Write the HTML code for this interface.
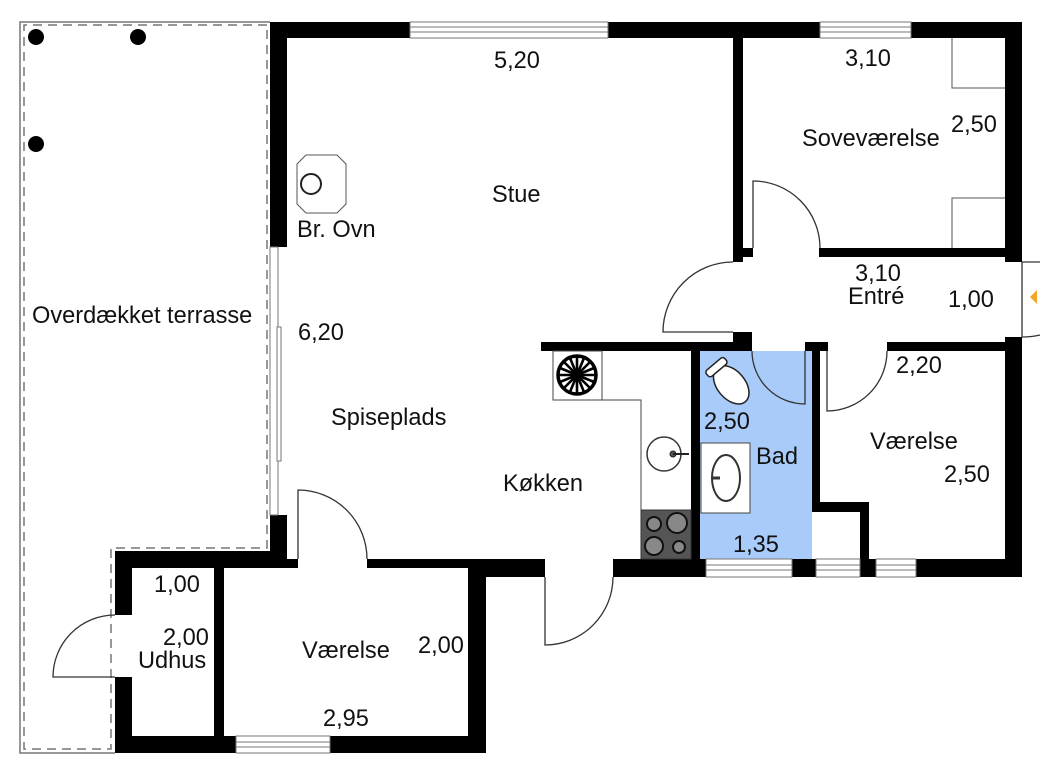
<!DOCTYPE html>
<html><head><meta charset="utf-8"><style>
html,body{margin:0;padding:0;background:#fff}
svg{display:block}
text{font-family:"Liberation Sans",Arial,sans-serif;font-size:23.6px;fill:#111}
</style></head><body>
<svg width="1061" height="765" viewBox="0 0 1061 765" xmlns="http://www.w3.org/2000/svg">
<polyline points="270,22 20,22 20,753 115,753" fill="none" stroke="#777" stroke-width="1.5"/>
<polyline points="267,25 24,25 24,749 111,749 111,548 267,548 267,25" fill="none" stroke="#777" stroke-width="1.5" stroke-dasharray="9,6"/>
<circle cx="36" cy="37" r="8" fill="#000"/><circle cx="138" cy="37" r="8" fill="#000"/><circle cx="36" cy="144" r="8" fill="#000"/>
<rect x="700" y="351" width="112" height="208" fill="#a9cbf9"/>
<g fill="#000">
<rect x="270" y="22" width="140" height="16"/>
<rect x="608" y="22" width="212" height="16"/>
<rect x="911" y="22" width="111" height="16"/>
<rect x="270" y="22" width="17" height="225"/>
<rect x="733" y="38" width="10" height="224"/>
<rect x="819" y="248" width="203" height="9"/>
<rect x="743" y="248" width="10" height="9"/>
<rect x="1005" y="22" width="17" height="240"/>
<rect x="1005" y="337" width="17" height="240"/>
<rect x="733" y="332" width="19" height="19"/>
<rect x="541" y="342" width="211" height="9"/>
<rect x="805" y="342" width="23" height="9"/>
<rect x="812" y="342" width="8" height="170"/>
<rect x="887" y="342" width="135" height="9"/>
<rect x="691" y="351" width="9" height="226"/>
<rect x="812" y="502" width="57" height="10"/>
<rect x="860" y="502" width="9" height="57"/>
<rect x="613" y="559" width="409" height="18"/>
<rect x="530" y="559" width="15" height="18"/>
<rect x="270" y="515" width="17" height="53"/>
<rect x="287" y="559" width="11" height="9"/>
<rect x="367" y="559" width="119" height="9"/>
<rect x="486" y="559" width="44" height="18"/>
<rect x="468" y="559" width="18" height="194"/>
<rect x="115" y="551" width="172" height="17"/>
<rect x="115" y="551" width="17" height="64"/>
<rect x="115" y="677" width="17" height="76"/>
<rect x="214" y="568" width="10" height="168"/>
<rect x="115" y="736" width="371" height="17"/>
</g>
<g fill="#fff" stroke="#777" stroke-width="1">
<rect x="410" y="22" width="198" height="16"/><line x1="410" y1="27" x2="608" y2="27"/><line x1="410" y1="32" x2="608" y2="32"/>
<rect x="820" y="22" width="91" height="16"/><line x1="820" y1="27" x2="911" y2="27"/><line x1="820" y1="32" x2="911" y2="32"/>
<rect x="236" y="736" width="94" height="17"/><line x1="236" y1="742" x2="330" y2="742"/><line x1="236" y1="747" x2="330" y2="747"/>
<rect x="706" y="559" width="86" height="18"/><line x1="706" y1="565" x2="792" y2="565"/><line x1="706" y1="570" x2="792" y2="570"/>
<rect x="816" y="559" width="44" height="18"/><line x1="816" y1="565" x2="860" y2="565"/><line x1="816" y1="570" x2="860" y2="570"/>
<rect x="876" y="559" width="40" height="18"/><line x1="876" y1="565" x2="916" y2="565"/><line x1="876" y1="570" x2="916" y2="570"/>
<rect x="270" y="247" width="8" height="268"/>
<rect x="277" y="327" width="4" height="134"/>
</g>
<g fill="none" stroke="#333" stroke-width="1.3">
<path d="M753,248 L753,181 A67,67 0 0 1 820,248"/>
<path d="M733,262 A70,70 0 0 0 663,332 L733,332"/>
<path d="M752,351 A53,53 0 0 0 805,404 L805,351"/>
<path d="M887,351 A60,60 0 0 1 827,411 L827,351"/>
<path d="M545,577 L545,645 A68,68 0 0 0 613,577"/>
<path d="M298,559 L298,490 A69,69 0 0 1 367,559"/>
<path d="M115,677 L53,677 A62,62 0 0 1 115,615"/>
<path d="M1022,262 L1022,337 M1022,262 L1040,262 M1022,337 A75,75 0 0 0 1040,335"/>
</g>
<polygon points="1030,297 1037,290 1037,304" fill="#f5a623"/>
<polygon points="306,155 337,155 346,164 346,204 337,213 306,213 297,204 297,164" fill="#fff" stroke="#555" stroke-width="1"/>
<circle cx="311" cy="184" r="10" fill="none" stroke="#222" stroke-width="2"/>
<rect x="553" y="351" width="49" height="49" fill="#fff" stroke="#444" stroke-width="1"/>
<circle cx="577" cy="375" r="19" fill="#fff" stroke="#000" stroke-width="3.5"/>
<g stroke="#000" stroke-width="2.6"><line x1="558" y1="375" x2="596" y2="375"/><line x1="577" y1="356" x2="577" y2="394"/><line x1="564" y1="362" x2="590" y2="388"/><line x1="590" y1="362" x2="564" y2="388"/><line x1="560" y1="368" x2="594" y2="382"/><line x1="560" y1="382" x2="594" y2="368"/><line x1="570" y1="358" x2="584" y2="392"/><line x1="584" y1="358" x2="570" y2="392"/></g>
<circle cx="577" cy="375" r="6" fill="#000"/>
<polyline points="602,400 641,400 641,510" fill="none" stroke="#444" stroke-width="1"/>
<circle cx="664" cy="454" r="17" fill="#fff" stroke="#333" stroke-width="1.5"/>
<circle cx="673" cy="454" r="3" fill="#555" stroke="#222"/><line x1="673" y1="454" x2="689" y2="454" stroke="#222" stroke-width="2"/>
<rect x="641" y="510" width="50" height="49" fill="#555" stroke="#333"/>
<g fill="#888" stroke="#111" stroke-width="2"><circle cx="654" cy="524" r="7"/><circle cx="677" cy="523" r="10"/><circle cx="654" cy="546" r="9"/><circle cx="679" cy="547" r="6"/></g>
<g transform="rotate(50 728 381)"><ellipse cx="733" cy="381" rx="22" ry="14" fill="#fff" stroke="#222" stroke-width="1.5"/><rect x="706" y="369" width="8" height="24" rx="3" fill="#fff" stroke="#222" stroke-width="1.5"/></g>
<rect x="701" y="443" width="49" height="70" fill="#fff" stroke="#444" stroke-width="1"/>
<ellipse cx="726" cy="478" rx="14" ry="23" fill="#fff" stroke="#333" stroke-width="2"/>
<line x1="712" y1="478" x2="720" y2="478" stroke="#333" stroke-width="3"/>
<g fill="none" stroke="#555" stroke-width="1"><polyline points="952,38 952,88 1005,88"/><polyline points="952,248 952,198 1005,198"/></g>
<text x="494" y="68">5,20</text>
<text x="492" y="202">Stue</text>
<text x="297" y="237">Br. Ovn</text>
<text x="32" y="323">Overdækket terrasse</text>
<text x="298" y="340">6,20</text>
<text x="845" y="66">3,10</text>
<text x="802" y="146">Soveværelse</text>
<text x="951" y="132">2,50</text>
<text x="855" y="281">3,10</text>
<text x="848" y="304">Entré</text>
<text x="948" y="307">1,00</text>
<text x="896" y="373">2,20</text>
<text x="704" y="429">2,50</text>
<text x="756" y="464">Bad</text>
<text x="870" y="449">Værelse</text>
<text x="944" y="482">2,50</text>
<text x="733" y="552">1,35</text>
<text x="503" y="491">Køkken</text>
<text x="331" y="425">Spiseplads</text>
<text x="154" y="592">1,00</text>
<text x="163" y="645">2,00</text>
<text x="138" y="668">Udhus</text>
<text x="302" y="658">Værelse</text>
<text x="418" y="653">2,00</text>
<text x="323" y="726">2,95</text>
</svg>
</body></html>
